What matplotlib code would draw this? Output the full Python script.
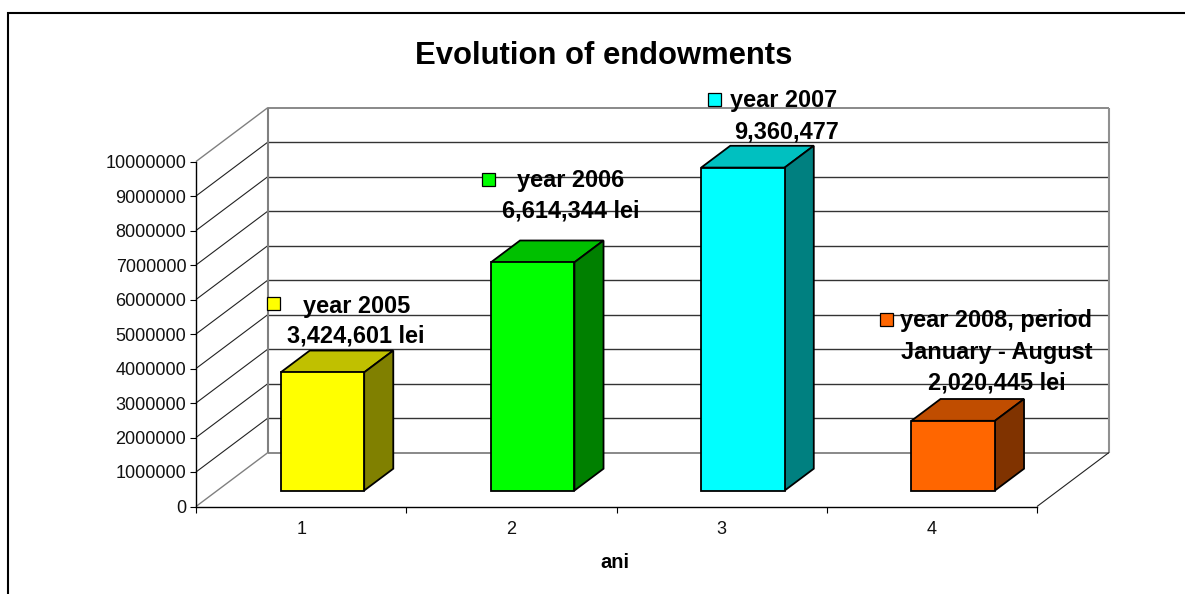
import matplotlib
matplotlib.use("Agg")
import matplotlib.pyplot as plt
from matplotlib.lines import Line2D
from matplotlib.patches import Polygon, Rectangle

plt.rcParams["font.family"] = ["Liberation Sans", "DejaVu Sans"]

categories = [1, 2, 3, 4]
values = [3424601, 6614344, 9360477, 2020445]
front_colors = ["#FFFF00", "#00FF00", "#00FFFF", "#FF6600"]
top_colors = ["#C0C000", "#00C000", "#00C0C0", "#C04D00"]
side_colors = ["#808000", "#008000", "#008080", "#803300"]
y_ticks = list(range(0, 10000001, 1000000))
title = "Evolution of endowments"
x_title = "ani"
label_lines = [
    ["year 2005", "3,424,601 lei"],
    ["year 2006", "6,614,344 lei"],
    ["year 2007", "9,360,477"],
    ["year 2008, period", "January - August", "2,020,445 lei"],
]

W, H = 1185, 594
fig = plt.figure(figsize=(W / 100, H / 100), dpi=100)
# front plane of the fake 3d box, in pixels: x 196-1037, y 161.5-506.5
ax = fig.add_axes([196 / W, 1 - 506.5 / H, 841 / W, 345 / H])
ax.set_xlim(0.5, 4.5)
ax.set_ylim(0, 10000000)

# how far the back wall sits from the front plane, in data units
DEPTH_X = 72 / 210.25
DEPTH_Y = 54 / 34.5 * 1000000


def project(x, y, d):
    return x + d * DEPTH_X, y + d * DEPTH_Y


def line3d(p0, p1, color, lw, zorder=1):
    ax.plot([p0[0], p1[0]], [p0[1], p1[1]], color=color, lw=lw, zorder=zorder,
            clip_on=False, solid_capstyle="butt")


# Walls and gridlines
for v in y_ticks:
    edge = v == y_ticks[-1]
    floor = v == 0
    wall_color = "#808080" if edge or floor else "#333333"
    side_color = "#808080" if edge or floor else "#222222"
    line3d(project(0.5, v, 1), project(4.5, v, 1), wall_color, 1.3 if edge or floor else 1.0)
    line3d(project(0.5, v, 0), project(0.5, v, 1), side_color, 1.0 if edge or floor else 0.8)
line3d(project(0.5, 0, 1), project(0.5, 10000000, 1), "#808080", 1.5)
line3d(project(4.5, 0, 1), project(4.5, 10000000, 1), "#909090", 1.5)
line3d(project(4.5, 0, 0), project(4.5, 0, 1), "#222222", 0.8)

# Bars
BAR_W = 83.5 / 210.25
D_FRONT = 0.296
D_BACK = 0.70
for cat, val, fc, tc, sc in zip(categories, values, front_colors, top_colors, side_colors):
    x0, x1 = cat - BAR_W / 2, cat + BAR_W / 2
    faces = [
        ([project(x0, val, D_FRONT), project(x1, val, D_FRONT),
          project(x1, val, D_BACK), project(x0, val, D_BACK)], tc),
        ([project(x1, 0, D_FRONT), project(x1, 0, D_BACK),
          project(x1, val, D_BACK), project(x1, val, D_FRONT)], sc),
        ([project(x0, 0, D_FRONT), project(x1, 0, D_FRONT),
          project(x1, val, D_FRONT), project(x0, val, D_FRONT)], fc),
    ]
    for pts, color in faces:
        ax.add_patch(Polygon(pts, closed=True, facecolor=color, edgecolor="black",
                             lw=1.3, zorder=3, clip_on=False, joinstyle="miter"))

# Axes
for name in ["top", "right"]:
    ax.spines[name].set_visible(False)
for name in ["left", "bottom"]:
    ax.spines[name].set_linewidth(1.0)
ax.patch.set_alpha(0)
ax.set_yticks(y_ticks)
ax.set_yticklabels([str(v) for v in y_ticks], fontsize=13, color="#111111")
ax.tick_params(axis="y", length=4.5, width=0.8, pad=2.5)
ax.set_xticks([c - 0.5 for c in categories] + [categories[-1] + 0.5])
ax.set_xticklabels([])
ax.tick_params(axis="x", length=4, width=0.8)
for cat in categories:
    ax.annotate(str(cat), (cat, 0), xytext=(0, -23.5), xycoords="data",
                textcoords="offset pixels", ha="center", va="center",
                fontsize=13, color="#111111")


def px_text(x, y, s, **kw):
    fig.text(x / W, 1 - y / H, s, ha="center", va="center", **kw)


px_text(604, 55.5, title, fontsize=22.3, fontweight="bold")
px_text(615, 563, x_title, fontsize=14.5, fontweight="bold")

# Data labels with their little legend keys, positions in pixels
key_left = [267, 482, 708, 880]
key_top = [297, 173, 93, 313]
label_cx = [[357, 356], [571, 571], [784, 787], [996, 997, 997]]
label_cy = [[306, 336], [181, 211], [101, 132], [321, 352, 383]]
for i, lines in enumerate(label_lines):
    fig.add_artist(Rectangle((key_left[i] / W, 1 - (key_top[i] + 13) / H), 13 / W, 13 / H,
                             facecolor=front_colors[i], edgecolor="black", lw=0.9,
                             transform=fig.transFigure, zorder=5))
    for s, cx, cy in zip(lines, label_cx[i], label_cy[i]):
        px_text(cx, cy, s, fontsize=16.9, fontweight="bold", zorder=6)

# Chart frame: cut off by the image on the right and bottom
fig.add_artist(Line2D([8 / W, 8 / W, 1], [0, 1 - 13 / H, 1 - 13 / H], color="black", lw=1.5,
                      transform=fig.transFigure, solid_joinstyle="miter"))

fig.savefig("out.png", dpi=100)
